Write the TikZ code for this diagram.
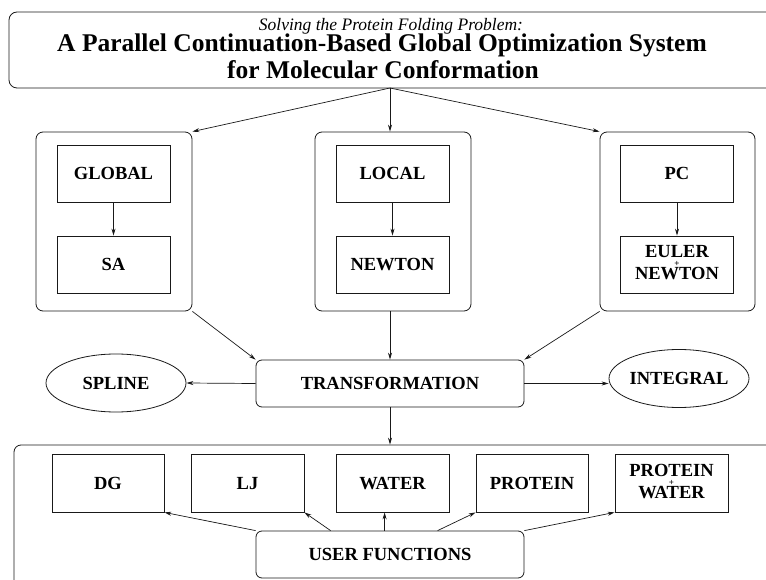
\documentclass[tikz,border=0pt]{standalone}
\usepackage{fontspec}
\setmainfont{Liberation Serif}
\usetikzlibrary{arrows.meta,shapes.geometric}
\newcommand{\stackpl}[2]{\begin{tabular}{@{}c@{}}#1\\[-13pt]{\fontsize{9}{9}\selectfont +}\\[-9pt]#2\end{tabular}}
\begin{document}
\begin{tikzpicture}[x=1pt,y=-1pt,
  lw/.style={line width=0.8pt, draw=black!90},
  cont/.style={lw, rounded corners=7pt, rectangle, inner sep=0pt},
  lbl/.style={font=\fontsize{18.5}{22}\selectfont\bfseries},
  one/.style={text height=12.2pt, text depth=0pt},
  ibox/.style={lw, lbl, rectangle, inner sep=0pt, minimum width=113pt, minimum height=57pt},
  rbox/.style={lw, lbl, one, rectangle, rounded corners=6pt, inner sep=0pt, minimum width=268pt, minimum height=47pt},
  ell/.style={lw, lbl, one, ellipse, inner sep=0pt, minimum width=140pt, minimum height=58pt},
  arr/.style={line width=0.7pt, draw=black!90, -{Stealth[length=7pt,width=4pt]}}
]
\useasboundingbox (0,0) rectangle (766,580);
\clip (0,0) rectangle (766,580);

% title
\node[cont, rounded corners=8pt, minimum width=791pt, minimum height=76pt] (titlebox) at (404.5,50) {};
\node[anchor=base, font=\fontsize{17.5}{17.5}\selectfont\itshape] (sub) at (391,31) {Solving the Protein Folding Problem:};
\node[anchor=base, font=\fontsize{25.5}{25.5}\selectfont\bfseries] (t1) at (382,52) {A Parallel Continuation-Based Global Optimization System};
\node[anchor=base, font=\fontsize{25.5}{25.5}\selectfont\bfseries] (t2) at (383,79) {for Molecular Conformation};
\coordinate (tb) at (390,88);

% containers
\node[cont, minimum width=156pt, minimum height=179pt] (lc) at (114,221.5) {};
\node[cont, minimum width=156pt, minimum height=179pt] (mc) at (393,221.5) {};
\node[cont, minimum width=155pt, minimum height=179pt] (rc) at (677.5,221.5) {};

\node[ibox, one] (global) at (113.5,173.5) {GLOBAL};
\node[ibox, one] (sa) at (113.5,264.5) {SA};
\node[ibox, one] (local) at (392.5,173.5) {LOCAL};
\node[ibox, one] (newton) at (392.5,264.5) {NEWTON};
\node[ibox, one] (pc) at (677,173.5) {PC};
\node[ibox] (euler) at (677,264.5) {\stackpl{EULER}{NEWTON}};

\draw[arr] (tb) -- (lc.north east);
\draw[arr] (tb) -- (tb |- mc.north);
\draw[arr] (tb) -- (rc.north west);
\draw[arr] (global) -- (sa);
\draw[arr] (local) -- (newton);
\draw[arr] (pc) -- (euler);

% transformation
\node[rbox] (trans) at (390,383.5) {TRANSFORMATION};
\node[ell] (spline) at (116,383) {SPLINE};
\node[ell] (integral) at (679,378.5) {INTEGRAL};

\draw[arr] (lc.south east) -- (trans.north west);
\draw[arr] (mc.south -| trans.north) -- (trans.north);
\draw[arr] (rc.south west) -- (trans.north east);
\draw[arr] (trans.west) -- (spline.east);
\draw[arr] (trans.east) -- (trans.east -| integral.west);

% bottom
\node[cont, minimum width=886pt, minimum height=255pt] (bc) at (457,572.5) {};
\draw[arr] (trans.south) -- (trans.south |- bc.north);

\node[ibox, one, minimum width=112pt, minimum height=58pt] (dg) at (108,483) {DG};
\node[ibox, one, minimum height=58pt] (lj) at (247.5,483) {LJ};
\node[ibox, one, minimum height=58pt] (water) at (392.5,483) {WATER};
\node[ibox, one, minimum width=112pt, minimum height=58pt] (protein) at (532,483) {PROTEIN};
\node[ibox, minimum height=58pt] (pw) at (671.5,483) {\stackpl{PROTEIN}{WATER}};

\node[rbox] (uf) at (390,554.5) {USER FUNCTIONS};
\draw[arr] (uf.north west) -- (dg.south east);
\draw[arr] ([xshift=75pt]uf.north west) -- (lj.south east);
\draw[arr] ([xshift=129pt]uf.north west) -- ([xshift=129pt]uf.north west |- water.south);
\draw[arr] ([xshift=182pt]uf.north west) -- (protein.south west);
\draw[arr] (uf.north east) -- (pw.south west);
\end{tikzpicture}
\end{document}
